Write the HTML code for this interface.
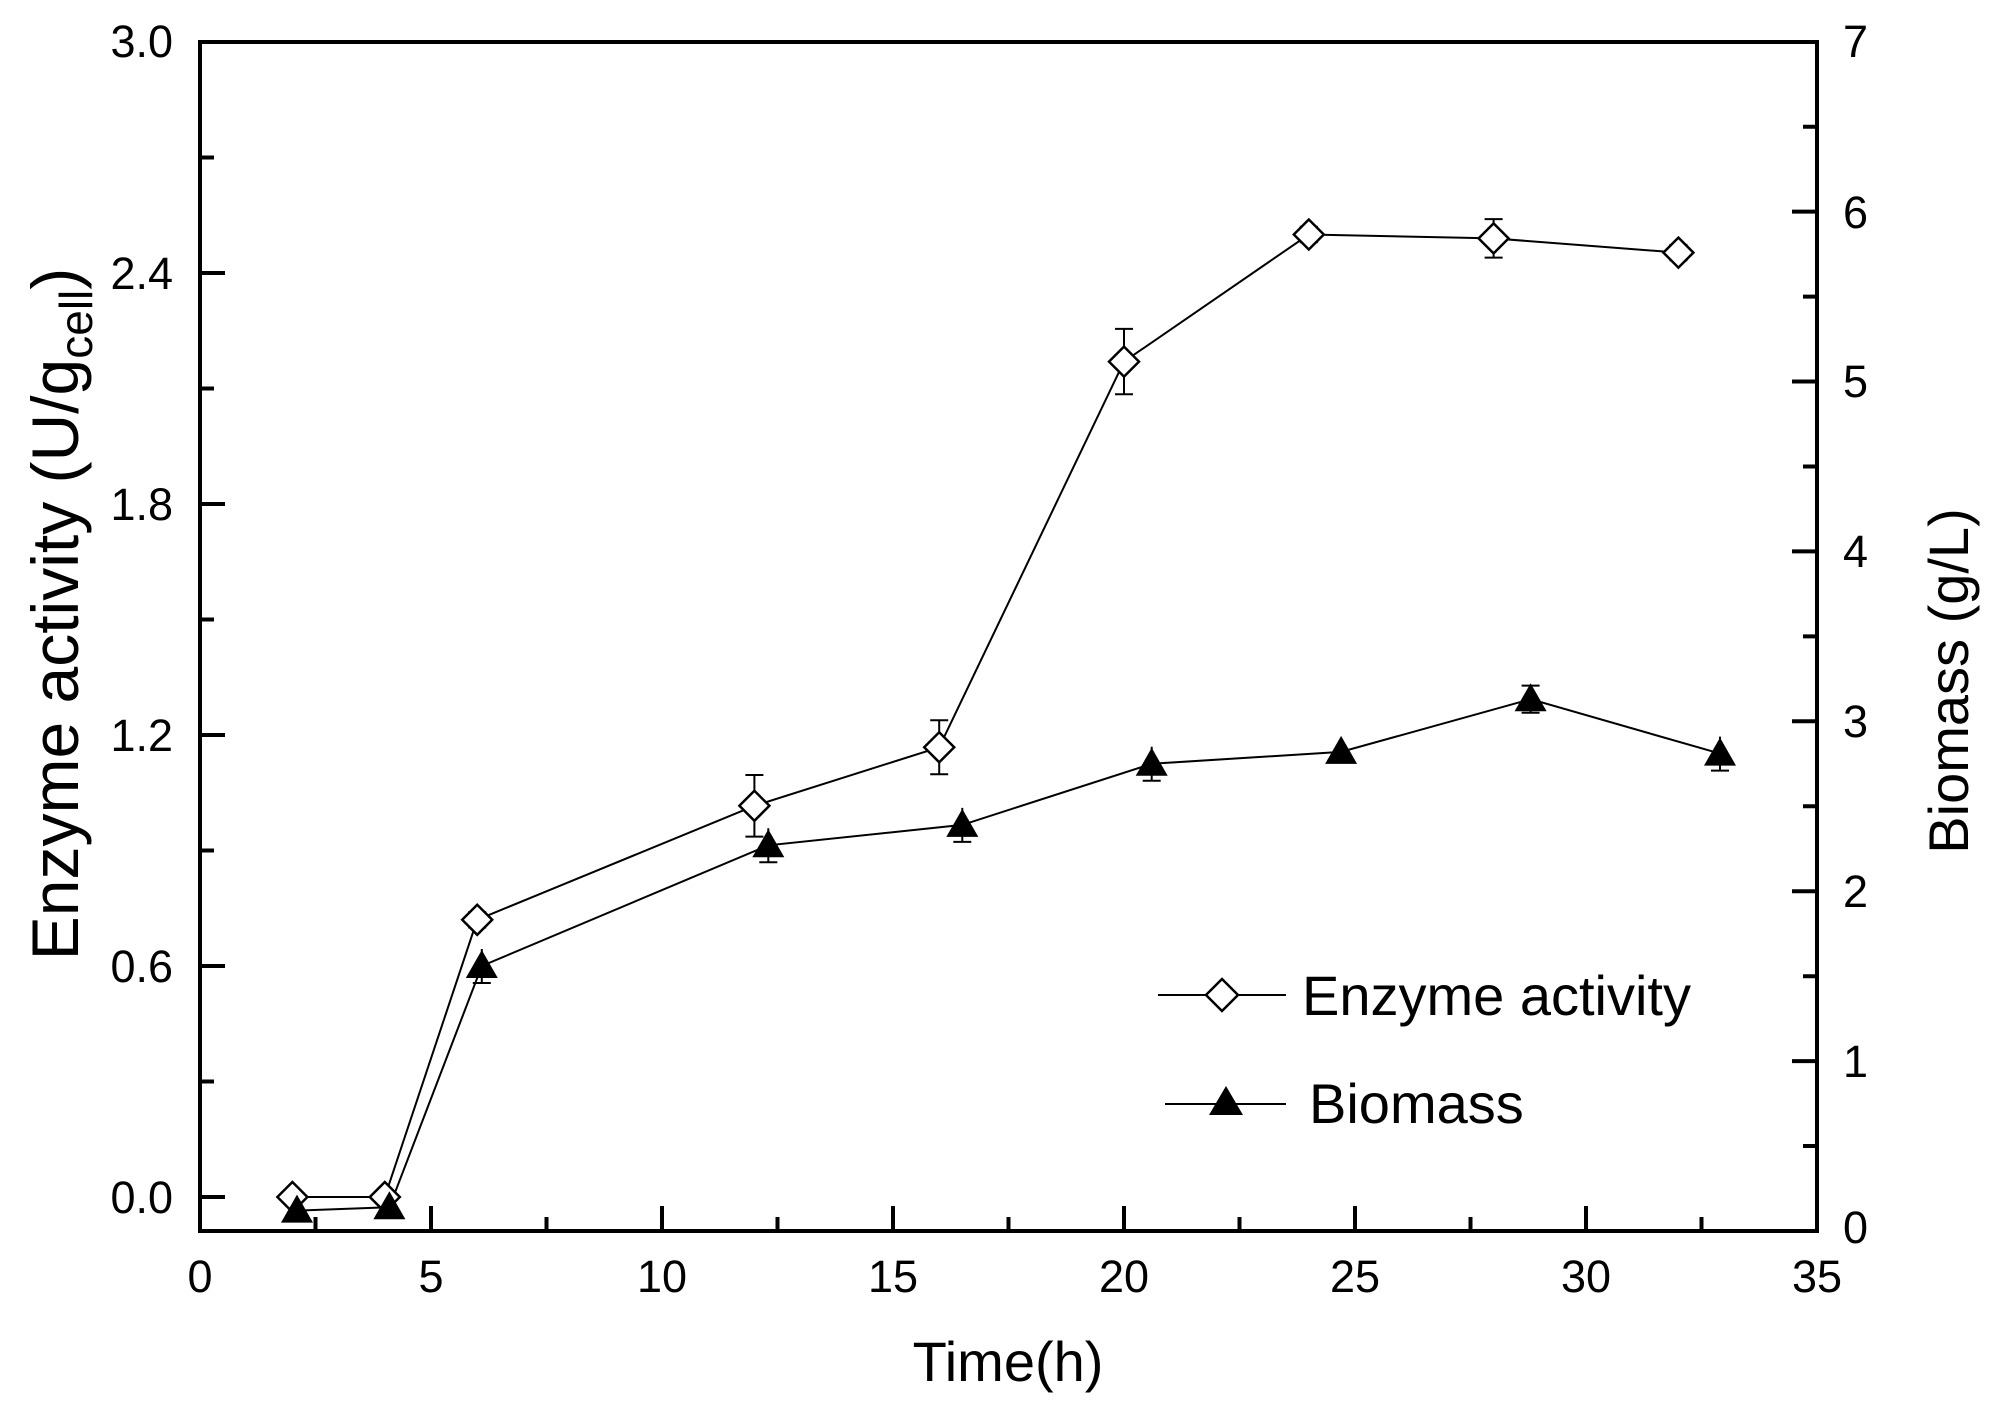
<!DOCTYPE html><html><head><style>body{margin:0;background:#fff}svg{display:block}text{font-family:"Liberation Sans",Arial,sans-serif;fill:#000}</style></head><body>
<svg width="1996" height="1412" viewBox="0 0 1996 1412">
<rect x="200" y="42" width="1617" height="1189" fill="none" stroke="#000" stroke-width="4"/>
<path stroke="#000" stroke-width="4" fill="none" d="
M200 1231V1206 M315.5 1231V1217 M431 1231V1206 M546.5 1231V1217 M662 1231V1206 M777.5 1231V1217 M893 1231V1206 M1008.5 1231V1217 M1124 1231V1206 M1239.5 1231V1217 M1355 1231V1206 M1470.5 1231V1217 M1586 1231V1206 M1701.5 1231V1217
M200 1197H225 M200 1081.5H214 M200 966H225 M200 850.5H214 M200 735H225 M200 619.5H214 M200 504H225 M200 388.5H214 M200 273H225 M200 157.5H214
M1817 1146H1803 M1817 1061.1H1792 M1817 976.2H1803 M1817 891.2H1792 M1817 806.3H1803 M1817 721.3H1792 M1817 636.4H1803 M1817 551.4H1792 M1817 466.5H1803 M1817 381.5H1792 M1817 296.6H1803 M1817 211.6H1792 M1817 126.7H1803"/>
<g font-size="45" text-anchor="middle">
<text x="200" y="1292">0</text><text x="431" y="1292">5</text><text x="662" y="1292">10</text><text x="893" y="1292">15</text><text x="1124" y="1292">20</text><text x="1355" y="1292">25</text><text x="1586" y="1292">30</text><text x="1817" y="1292">35</text>
</g>
<g font-size="45" text-anchor="end">
<text x="173" y="1213">0.0</text><text x="173" y="982">0.6</text><text x="173" y="751">1.2</text><text x="173" y="520">1.8</text><text x="173" y="289">2.4</text><text x="173" y="57">3.0</text>
</g>
<g font-size="45">
<text x="1843" y="1243">0</text><text x="1843" y="1077">1</text><text x="1843" y="907">2</text><text x="1843" y="737">3</text><text x="1843" y="567">4</text><text x="1843" y="397">5</text><text x="1843" y="228">6</text><text x="1843" y="57">7</text>
</g>
<polyline fill="none" stroke="#000" stroke-width="2" points="292.4,1197 384.8,1197 477.2,919.8 754.4,805.8 939.2,747.3 1124,361.6 1308.8,234.5 1493.6,238.4 1678.4,252.6"/>
<polyline fill="none" stroke="#000" stroke-width="2" points="297,1210.6 389.4,1207.2 481.8,966 768.3,845.3 962.3,824.9 1151.7,763.8 1341.1,751.9 1530.6,699.2 1720,753.6"/>
<path stroke="#000" stroke-width="2" fill="none" d="
M477.2 912.1V927.5 M468.2 912.1H486.2 M468.2 927.5H486.2
M754.4 775V836.6 M745.4 775H763.4 M745.4 836.6H763.4
M939.2 720.3V774.3 M930.2 720.3H948.2 M930.2 774.3H948.2
M1124 328.9V394.3 M1115 328.9H1133 M1115 394.3H1133
M1308.8 226.8V242.2 M1299.8 226.8H1317.8 M1299.8 242.2H1317.8
M1493.6 219.1V257.6 M1484.6 219.1H1502.6 M1484.6 257.6H1502.6
M1678.4 244.9V260.3 M1669.4 244.9H1687.4 M1669.4 260.3H1687.4
M297 1202.1V1219.1 M389.4 1198.7V1215.7
M481.8 949V983 M472.8 983H490.8
M768.3 828.3V862.3 M759.3 862.3H777.3
M962.3 807.9V841.9 M953.3 841.9H971.3
M1151.7 746.8V780.8 M1142.7 780.8H1160.7
M1341.1 743.4V760.4
M1530.6 685.6V712.8 M1521.6 685.6H1539.6 M1521.6 712.8H1539.6
M1720 736.6V770.6 M1711 770.6H1729"/>
<g fill="#fff" stroke="#000" stroke-width="2.5">
<polygon points="292.4,1182 307.4,1197 292.4,1212 277.4,1197"/>
<polygon points="384.8,1182 399.8,1197 384.8,1212 369.8,1197"/>
<polygon points="477.2,904.8 492.2,919.8 477.2,934.8 462.2,919.8"/>
<polygon points="754.4,790.8 769.4,805.8 754.4,820.8 739.4,805.8"/>
<polygon points="939.2,732.3 954.2,747.3 939.2,762.3 924.2,747.3"/>
<polygon points="1124,346.6 1139,361.6 1124,376.6 1109,361.6"/>
<polygon points="1308.8,219.5 1323.8,234.5 1308.8,249.5 1293.8,234.5"/>
<polygon points="1493.6,223.4 1508.6,238.4 1493.6,253.4 1478.6,238.4"/>
<polygon points="1678.4,237.6 1693.4,252.6 1678.4,267.6 1663.4,252.6"/>
<polygon points="1222,979 1238,995 1222,1011 1206,995"/>
</g>
<g fill="#000">
<polygon points="297,1194.6 313,1222.6 281,1222.6"/>
<polygon points="389.4,1191.2 405.4,1219.2 373.4,1219.2"/>
<polygon points="481.8,950 497.8,978 465.8,978"/>
<polygon points="768.3,829.3 784.3,857.3 752.3,857.3"/>
<polygon points="962.3,808.9 978.3,836.9 946.3,836.9"/>
<polygon points="1151.7,747.8 1167.7,775.8 1135.7,775.8"/>
<polygon points="1341.1,735.9 1357.1,763.9 1325.1,763.9"/>
<polygon points="1530.6,683.2 1546.6,711.2 1514.6,711.2"/>
<polygon points="1720,737.6 1736,765.6 1704,765.6"/>
<polygon points="1226,1086 1243,1115 1209,1115"/>
</g>
<path stroke="#000" stroke-width="2" d="M1158 995H1206 M1238 995H1286 M1165 1104H1286"/>
<text x="1302" y="1015" font-size="56">Enzyme activity</text>
<text x="1309" y="1123" font-size="56">Biomass</text>
<text x="1008" y="1381" font-size="56" text-anchor="middle">Time(h)</text>
<text transform="translate(78,614) rotate(-90)" font-size="66" text-anchor="middle">Enzyme activity (U/g<tspan font-size="46" dy="14">cell</tspan><tspan dy="-14">)</tspan></text>
<text transform="translate(1968,681) rotate(-90)" font-size="56" text-anchor="middle">Biomass (g/L)</text>
</svg></body></html>
